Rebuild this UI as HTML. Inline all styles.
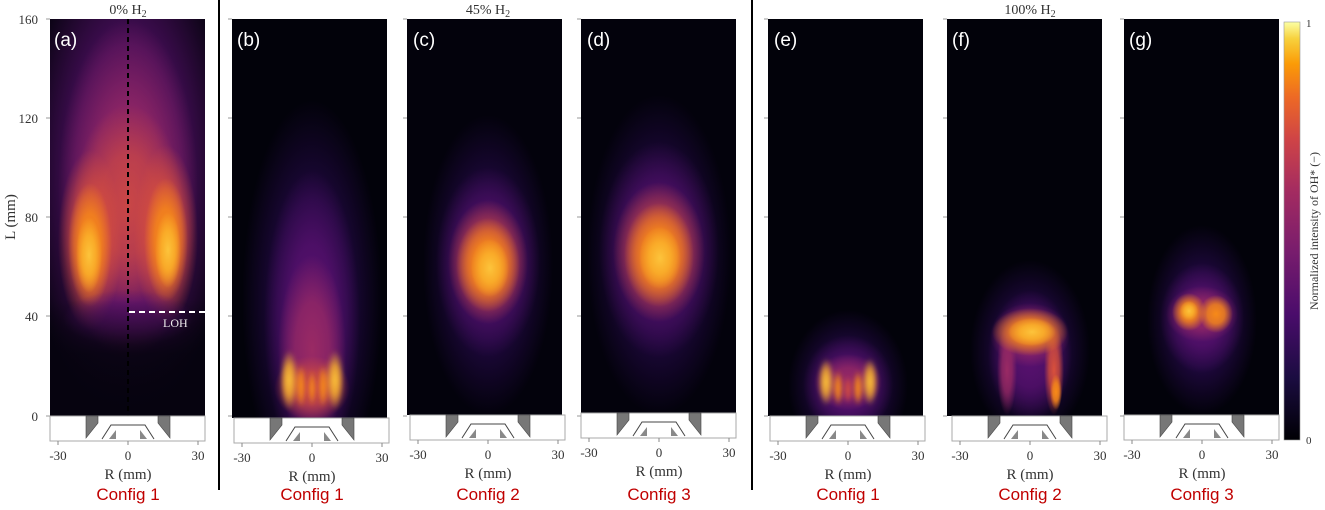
<!DOCTYPE html>
<html><head><meta charset="utf-8"><style>
html,body{margin:0;padding:0;background:#fff;}
svg{display:block;}
.t{font-family:"Liberation Serif",serif;fill:#333;}
.c{font-family:"Liberation Sans",sans-serif;fill:#c00000;font-size:17px;}
.p{font-family:"Liberation Sans",sans-serif;fill:#fff;font-size:19px;}
</style></head><body>
<svg width="1325" height="510" viewBox="0 0 1325 510" xmlns="http://www.w3.org/2000/svg">
<defs>
<filter id="b2" x="-100%" y="-100%" width="300%" height="300%"><feGaussianBlur stdDeviation="2"/></filter>
<radialGradient id="gD"><stop offset="0" stop-color="#2a0a52" stop-opacity="1"/><stop offset="0.5" stop-color="#2a0a52" stop-opacity="0.7"/><stop offset="1" stop-color="#2a0a52" stop-opacity="0"/></radialGradient>
<radialGradient id="gP"><stop offset="0" stop-color="#5a1170" stop-opacity="1"/><stop offset="0.5" stop-color="#5a1170" stop-opacity="0.75"/><stop offset="1" stop-color="#5a1170" stop-opacity="0"/></radialGradient>
<radialGradient id="gM"><stop offset="0" stop-color="#9a2a64" stop-opacity="1"/><stop offset="0.5" stop-color="#9a2a64" stop-opacity="0.75"/><stop offset="1" stop-color="#9a2a64" stop-opacity="0"/></radialGradient>
<radialGradient id="gR"><stop offset="0" stop-color="#d9503c" stop-opacity="1"/><stop offset="0.5" stop-color="#d9503c" stop-opacity="0.75"/><stop offset="1" stop-color="#d9503c" stop-opacity="0"/></radialGradient>
<radialGradient id="gO"><stop offset="0" stop-color="#f78a18" stop-opacity="1"/><stop offset="0.5" stop-color="#f78a18" stop-opacity="0.8"/><stop offset="1" stop-color="#f78a18" stop-opacity="0"/></radialGradient>
<radialGradient id="gY"><stop offset="0" stop-color="#fcc43c" stop-opacity="1"/><stop offset="0.5" stop-color="#fbb52c" stop-opacity="0.8"/><stop offset="1" stop-color="#fbb52c" stop-opacity="0"/></radialGradient>
<linearGradient id="darkb" x1="0" y1="0" x2="0" y2="1"><stop offset="0" stop-color="#06030f" stop-opacity="0"/><stop offset="0.45" stop-color="#06030f" stop-opacity="0.85"/><stop offset="1" stop-color="#06030f" stop-opacity="1"/></linearGradient>
<linearGradient id="cb" x1="0" y1="1" x2="0" y2="0">
<stop offset="0" stop-color="#000004"/><stop offset="0.15" stop-color="#1b0c41"/><stop offset="0.3" stop-color="#4a0c6b"/><stop offset="0.45" stop-color="#781c6d"/><stop offset="0.6" stop-color="#a52c60"/><stop offset="0.72" stop-color="#cf4446"/><stop offset="0.82" stop-color="#ed6925"/><stop offset="0.9" stop-color="#fb9b06"/><stop offset="0.96" stop-color="#f7d13d"/><stop offset="1" stop-color="#fcffa4"/>
</linearGradient>
<clipPath id="ca"><rect x="50" y="19" width="155" height="397"/></clipPath>
<clipPath id="cbp"><rect x="232" y="19" width="155" height="399"/></clipPath>
<clipPath id="cc"><rect x="407" y="19" width="155" height="396"/></clipPath>
<clipPath id="cd"><rect x="581" y="19" width="155" height="394"/></clipPath>
<clipPath id="ce"><rect x="768" y="19" width="155" height="397"/></clipPath>
<clipPath id="cf"><rect x="947" y="19" width="155" height="397"/></clipPath>
<clipPath id="cg"><rect x="1124" y="19" width="155" height="396"/></clipPath>
<g id="burner">
<rect x="-78" y="0" width="155" height="25" fill="#fff" stroke="#aaa" stroke-width="1"/>
<polygon points="-42,0 -30,0 -30,7 -42,22" fill="#777" stroke="#444" stroke-width="0.6"/>
<polygon points="42,0 30,0 30,7 42,22" fill="#777" stroke="#444" stroke-width="0.6"/>
<polyline points="-26,23 -17,9 17,9 26,23" fill="none" stroke="#444" stroke-width="1"/>
<polygon points="-19,23 -12,14 -12,23" fill="#888"/>
<polygon points="19,23 12,14 12,23" fill="#888"/>
<line x1="-70" y1="25" x2="-70" y2="29" stroke="#888"/><line x1="0" y1="25" x2="0" y2="29" stroke="#888"/><line x1="70" y1="25" x2="70" y2="29" stroke="#888"/>
<text class="t" x="-70" y="44" font-size="13" text-anchor="middle">-30</text>
<text class="t" x="0" y="44" font-size="13" text-anchor="middle">0</text>
<text class="t" x="70" y="44" font-size="13" text-anchor="middle">30</text>
<text class="t" x="0" y="63" font-size="15" text-anchor="middle">R (mm)</text>
</g>
<g id="yt" stroke="#999" stroke-width="1">
<line x1="-4" y1="19" x2="0" y2="19"/><line x1="-4" y1="118" x2="0" y2="118"/><line x1="-4" y1="217" x2="0" y2="217"/><line x1="-4" y1="316" x2="0" y2="316"/><line x1="-4" y1="416" x2="0" y2="416"/>
</g>
</defs>

<!-- Panel a -->
<g clip-path="url(#ca)">
<rect x="50" y="19" width="155" height="397" fill="#06030f"/>
<ellipse cx="128" cy="170" rx="105" ry="250" fill="url(#gP)"/>
<ellipse cx="128" cy="190" rx="70" ry="170" fill="url(#gM)"/>
<ellipse cx="128" cy="205" rx="55" ry="100" fill="url(#gR)" opacity="0.75"/>
<ellipse cx="90" cy="240" rx="32" ry="90" fill="url(#gR)"/>
<ellipse cx="166" cy="235" rx="32" ry="90" fill="url(#gR)"/>
<ellipse cx="90" cy="245" rx="22" ry="62" fill="url(#gO)"/>
<ellipse cx="166" cy="240" rx="22" ry="62" fill="url(#gO)"/>
<ellipse cx="89" cy="255" rx="13" ry="38" fill="url(#gY)"/>
<ellipse cx="168" cy="250" rx="13" ry="38" fill="url(#gY)"/>
<ellipse cx="128" cy="318" rx="65" ry="28" fill="url(#gP)" opacity="0.8"/>
<rect x="50" y="300" width="155" height="120" fill="url(#darkb)"/>
</g>
<line x1="128" y1="19" x2="128" y2="440" stroke="#000" stroke-width="2" stroke-dasharray="5,4"/>
<line x1="129" y1="312" x2="205" y2="312" stroke="#fff" stroke-width="2" stroke-dasharray="6,4"/>
<text x="163" y="327" font-family="Liberation Serif,serif" font-size="12" fill="#eee">LOH</text>
<text class="p" x="54" y="46">(a)</text>
<use href="#burner" x="128" y="416"/>
<use href="#yt" x="50" y="0"/>
<text class="t" x="38" y="24" font-size="13" text-anchor="end">160</text>
<text class="t" x="38" y="123" font-size="13" text-anchor="end">120</text>
<text class="t" x="38" y="222" font-size="13" text-anchor="end">80</text>
<text class="t" x="38" y="321" font-size="13" text-anchor="end">40</text>
<text class="t" x="38" y="421" font-size="13" text-anchor="end">0</text>
<text class="t" x="0" y="0" font-size="15" text-anchor="middle" transform="translate(15,217) rotate(-90)">L (mm)</text>
<text class="t" x="128" y="14" font-size="14" text-anchor="middle">0% H<tspan font-size="10" dy="3">2</tspan></text>
<text class="c" x="128" y="500" text-anchor="middle">Config 1</text>

<line x1="219" y1="0" x2="219" y2="490" stroke="#000" stroke-width="2"/>
<line x1="752" y1="0" x2="752" y2="490" stroke="#000" stroke-width="2"/>

<!-- Panel b -->
<g clip-path="url(#cbp)">
<rect x="232" y="19" width="155" height="399" fill="#02020a"/>
<ellipse cx="312" cy="300" rx="70" ry="200" fill="url(#gD)"/>
<ellipse cx="312" cy="320" rx="48" ry="150" fill="url(#gP)"/>
<ellipse cx="312" cy="350" rx="34" ry="95" fill="url(#gM)"/>
<ellipse cx="312" cy="388" rx="38" ry="32" fill="url(#gR)" opacity="0.8"/>
<g filter="url(#b2)">
<ellipse cx="289" cy="380" rx="9" ry="30" fill="url(#gY)"/>
<ellipse cx="335" cy="380" rx="9" ry="30" fill="url(#gY)"/>
<ellipse cx="301" cy="386" rx="5" ry="22" fill="url(#gO)"/>
<ellipse cx="323" cy="386" rx="5" ry="22" fill="url(#gO)"/>
<ellipse cx="312" cy="388" rx="4" ry="18" fill="url(#gO)"/>
</g>
</g>
<text class="p" x="237" y="46">(b)</text>
<use href="#burner" x="312" y="418"/>
<use href="#yt" x="232" y="0"/>
<text class="c" x="312" y="500" text-anchor="middle">Config 1</text>

<!-- Panel c -->
<g clip-path="url(#cc)">
<rect x="407" y="19" width="155" height="396" fill="#03020c"/>
<ellipse cx="488" cy="265" rx="65" ry="150" fill="url(#gD)"/>
<ellipse cx="488" cy="262" rx="52" ry="95" fill="url(#gP)"/>
<ellipse cx="488" cy="262" rx="40" ry="62" fill="url(#gR)"/>
<ellipse cx="488" cy="265" rx="32" ry="47" fill="url(#gO)"/>
<ellipse cx="490" cy="268" rx="19" ry="29" fill="url(#gY)"/>
</g>
<text class="p" x="413" y="46">(c)</text>
<use href="#burner" x="488" y="415"/>
<use href="#yt" x="407" y="0"/>
<text class="t" x="488" y="14" font-size="14" text-anchor="middle">45% H<tspan font-size="10" dy="3">2</tspan></text>
<text class="c" x="488" y="500" text-anchor="middle">Config 2</text>

<!-- Panel d -->
<g clip-path="url(#cd)">
<rect x="581" y="19" width="155" height="394" fill="#03020c"/>
<ellipse cx="659" cy="255" rx="72" ry="160" fill="url(#gD)"/>
<ellipse cx="659" cy="250" rx="60" ry="108" fill="url(#gP)"/>
<ellipse cx="659" cy="252" rx="46" ry="70" fill="url(#gR)"/>
<ellipse cx="659" cy="255" rx="35" ry="52" fill="url(#gO)"/>
<ellipse cx="660" cy="258" rx="21" ry="31" fill="url(#gY)"/>
</g>
<text class="p" x="587" y="46">(d)</text>
<use href="#burner" x="659" y="413"/>
<use href="#yt" x="581" y="0"/>
<text class="c" x="659" y="500" text-anchor="middle">Config 3</text>

<!-- Panel e -->
<g clip-path="url(#ce)">
<rect x="768" y="19" width="155" height="397" fill="#02020a"/>
<ellipse cx="848" cy="385" rx="60" ry="75" fill="url(#gD)"/>
<ellipse cx="848" cy="385" rx="45" ry="50" fill="url(#gP)"/>
<ellipse cx="848" cy="382" rx="34" ry="28" fill="url(#gM)"/>
<g filter="url(#b2)">
<ellipse cx="826" cy="382" rx="8" ry="24" fill="url(#gY)"/>
<ellipse cx="870" cy="382" rx="8" ry="24" fill="url(#gY)"/>
<ellipse cx="838" cy="388" rx="5" ry="18" fill="url(#gO)"/>
<ellipse cx="858" cy="388" rx="5" ry="18" fill="url(#gO)"/>
<ellipse cx="848" cy="390" rx="4" ry="14" fill="url(#gR)"/>
</g>
</g>
<text class="p" x="774" y="46">(e)</text>
<use href="#burner" x="848" y="416"/>
<use href="#yt" x="768" y="0"/>
<text class="c" x="848" y="500" text-anchor="middle">Config 1</text>

<!-- Panel f -->
<g clip-path="url(#cf)">
<rect x="947" y="19" width="155" height="397" fill="#02020a"/>
<ellipse cx="1030" cy="350" rx="60" ry="90" fill="url(#gD)"/>
<ellipse cx="1030" cy="355" rx="42" ry="65" fill="url(#gP)"/>
<ellipse cx="1030" cy="335" rx="40" ry="32" fill="url(#gM)"/>
<ellipse cx="1007" cy="370" rx="10" ry="45" fill="url(#gM)"/>
<ellipse cx="1054" cy="370" rx="10" ry="45" fill="url(#gR)"/>
<ellipse cx="1056" cy="392" rx="6" ry="18" fill="url(#gO)"/>
<ellipse cx="1030" cy="332" rx="38" ry="24" fill="url(#gO)"/>
<ellipse cx="1032" cy="332" rx="24" ry="14" fill="url(#gY)"/>
</g>
<text class="p" x="952" y="46">(f)</text>
<use href="#burner" x="1030" y="416"/>
<use href="#yt" x="947" y="0"/>
<text class="t" x="1030" y="14" font-size="14" text-anchor="middle">100% H<tspan font-size="10" dy="3">2</tspan></text>
<text class="c" x="1030" y="500" text-anchor="middle">Config 2</text>

<!-- Panel g -->
<g clip-path="url(#cg)">
<rect x="1124" y="19" width="155" height="396" fill="#02020a"/>
<ellipse cx="1202" cy="320" rx="55" ry="95" fill="url(#gD)"/>
<ellipse cx="1202" cy="318" rx="42" ry="55" fill="url(#gP)"/>
<ellipse cx="1202" cy="314" rx="36" ry="28" fill="url(#gM)"/>
<ellipse cx="1189" cy="312" rx="17" ry="19" fill="url(#gO)"/>
<ellipse cx="1216" cy="314" rx="17" ry="19" fill="url(#gO)"/>
<ellipse cx="1189" cy="311" rx="9" ry="10" fill="url(#gY)"/>
</g>
<text class="p" x="1129" y="46">(g)</text>
<use href="#burner" x="1202" y="415"/>
<use href="#yt" x="1124" y="0"/>
<text class="c" x="1202" y="500" text-anchor="middle">Config 3</text>

<!-- colorbar -->
<rect x="1284" y="22" width="16" height="418" fill="url(#cb)" stroke="#999" stroke-width="0.6"/>
<text class="t" x="1306" y="27" font-size="11">1</text>
<text class="t" x="1306" y="444" font-size="11">0</text>
<text class="t" x="0" y="0" font-size="12" text-anchor="middle" transform="translate(1318,231) rotate(-90)">Normalized intensity of OH* (−)</text>
</svg>
</body></html>
